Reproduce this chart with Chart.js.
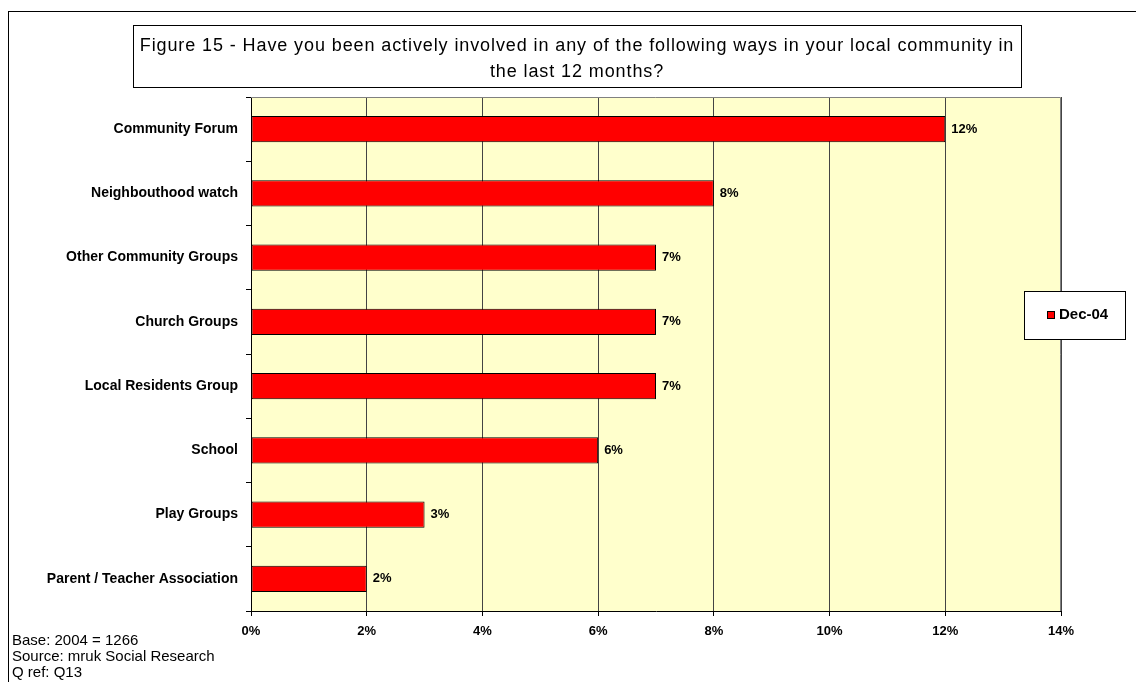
<!DOCTYPE html>
<html>
<head>
<meta charset="utf-8">
<script src="https://cdn.jsdelivr.net/npm/chart.js@4"></script>
<style>
  html, body { margin: 0; padding: 0; background: #fff; }
  #wrap { width: 1136px; height: 682px; }
</style>
</head>
<body>
<div id="wrap"><canvas id="myChart" width="1136" height="682"></canvas></div>
<script>
const categories = [
  "Community Forum",
  "Neighbouthood watch",
  "Other Community Groups",
  "Church Groups",
  "Local Residents Group",
  "School",
  "Play Groups",
  "Parent / Teacher Association",
];
const dec04 = [12, 8, 7, 7, 7, 6, 3, 2];
const seriesName = "Dec-04";
const titleLines = [
  "Figure 15 - Have you been actively involved in any of the following ways in your local community in",
  "the last 12 months?",
];
const notes = ["Base: 2004 = 1266", "Source: mruk Social Research", "Q ref: Q13"];

const FONT = "'Liberation Sans', Arial, sans-serif";

// frame, title box, plot background, value labels, legend and footnotes
const decorations = {
  id: "decorations",
  beforeDraw(chart) {
    const { ctx, chartArea: a } = chart;
    ctx.save();
    ctx.fillStyle = "#fff";
    ctx.fillRect(0, 0, chart.width, chart.height);
    ctx.fillStyle = "#FFFFCC";
    ctx.fillRect(a.left, a.top, a.right - a.left, a.bottom - a.top);
    ctx.restore();
  },
  afterDraw(chart) {
    const { ctx, chartArea: a } = chart;
    ctx.save();

    // outer frame
    ctx.strokeStyle = "#000";
    ctx.lineWidth = 1;
    ctx.strokeRect(8.5, 11.5, chart.width + 10, chart.height + 10);

    // plot border top / right
    ctx.strokeStyle = "#808080";
    ctx.beginPath();
    ctx.moveTo(a.left, a.top + 0.5);
    ctx.lineTo(a.right - 0.5, a.top + 0.5);
    ctx.lineTo(a.right - 0.5, a.bottom);
    ctx.stroke();

    // title box
    ctx.fillStyle = "#fff";
    ctx.fillRect(133, 25, 888, 62);
    ctx.strokeStyle = "#000";
    ctx.strokeRect(133.5, 25.5, 888, 62);
    ctx.fillStyle = "#000";
    ctx.font = "18px " + FONT;
    ctx.letterSpacing = "0.9px";
    ctx.textAlign = "center";
    ctx.textBaseline = "middle";
    titleLines.forEach((t, i) => ctx.fillText(t, 577, 46 + i * 26));
    ctx.letterSpacing = "0px";

    // value labels
    const meta = chart.getDatasetMeta(0);
    ctx.font = "bold 13px " + FONT;
    ctx.textAlign = "left";
    meta.data.forEach((bar, i) => {
      ctx.fillText(dec04[i] + "%", bar.x + 6, bar.y);
    });

    // legend
    ctx.fillStyle = "#fff";
    ctx.fillRect(1024, 291, 101, 48);
    ctx.strokeStyle = "#000";
    ctx.strokeRect(1024.5, 291.5, 101, 48);
    ctx.fillStyle = "#FF0000";
    ctx.fillRect(1047, 311, 8, 8);
    ctx.strokeRect(1047.5, 311.5, 7, 7);
    ctx.fillStyle = "#000";
    ctx.font = "bold 15px " + FONT;
    ctx.fillText(seriesName, 1059, 315);

    // footnotes
    ctx.font = "15px " + FONT;
    notes.forEach((t, i) => ctx.fillText(t, 12, 641 + i * 16));
    ctx.restore();
  },
};

new Chart(document.getElementById("myChart"), {
  type: "bar",
  data: {
    labels: categories,
    datasets: [{
      label: seriesName,
      data: dec04,
      backgroundColor: "#FF0000",
      borderColor: "#000",
      borderWidth: 1,
      borderSkipped: false,
      barPercentage: 0.405,
      categoryPercentage: 1,
    }],
  },
  options: {
    indexAxis: "y",
    responsive: false,
    animation: false,
    layout: { padding: { left: 0, right: 75, top: 97, bottom: 0 } },
    plugins: { legend: { display: false }, tooltip: { enabled: false } },
    scales: {
      x: {
        min: 0,
        max: 14,
        afterFit: (s) => { s.height = 71; },
        ticks: {
          stepSize: 2,
          padding: 8,
          color: "#000",
          font: { family: FONT, size: 13, weight: "bold" },
          callback: (v) => v + "%",
        },
        grid: { color: "#444", tickLength: 5, tickColor: "#000" },
        border: { color: "#000" },
      },
      y: {
        afterFit: (s) => { s.width = 251; },
        ticks: {
          padding: 8,
          color: "#000",
          font: { family: FONT, size: 14, weight: "bold" },
        },
        grid: { offset: true, drawOnChartArea: false, tickLength: 5, tickColor: "#000" },
        border: { color: "#000" },
      },
    },
  },
  plugins: [decorations],
});
</script>
</body>
</html>
